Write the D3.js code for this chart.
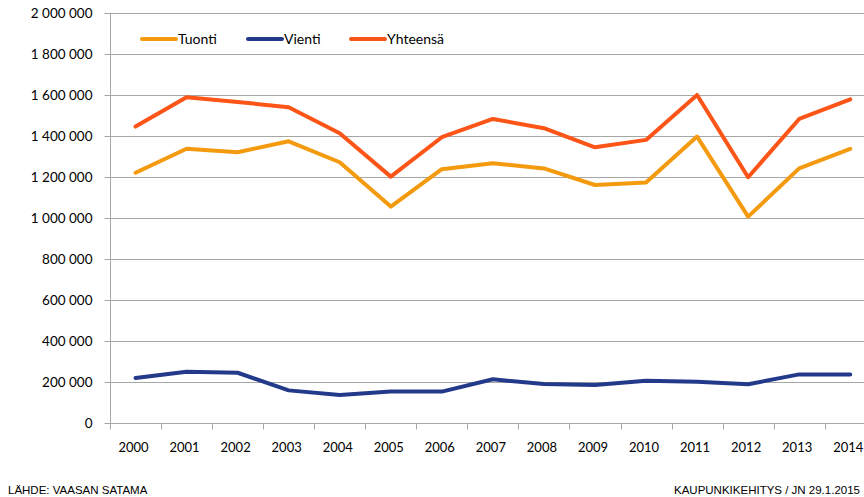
<!DOCTYPE html>
<html><head><meta charset="utf-8">
<script src="https://cdn.jsdelivr.net/npm/d3@7"></script>
<style>
html,body{margin:0;padding:0;background:#fff;}
svg{display:block;}
</style></head>
<body>
<svg id="c" width="864" height="497"></svg>
<script>
const years = ["2000","2001","2002","2003","2004","2005","2006","2007","2008","2009","2010","2011","2012","2013","2014"];
const tuonti = [1220000,1337000,1320000,1373000,1271000,1055000,1237000,1266000,1241000,1160000,1172000,1396000,1006000,1241000,1336000];
const vienti = [219000,250000,245000,159000,137000,153000,153000,213000,190000,185000,206000,201000,189000,237000,237000];
const yhteensa = [1445000,1588000,1565000,1539000,1412000,1201000,1393000,1482000,1437000,1344000,1380000,1599000,1198000,1482000,1578000];
const seriesNames = ["Tuonti","Vienti","Yhteensä"];
const seriesColors = ["#F39A0F","#233A8A","#FC5517"];
const yTicks = [0,200000,400000,600000,800000,1000000,1200000,1400000,1600000,1800000,2000000];
const sourceText = "LÄHDE: VAASAN SATAMA";
const creditText = "KAUPUNKIKEHITYS / JN 29.1.2015";

const svg = d3.select("#c");
const mLeft = 110, mTop = 12.7, mBottom = 423, bandW = 51.05;
const x = d3.scaleBand().domain(years).range([mLeft, mLeft + bandW*years.length]).paddingInner(0).paddingOuter(0);
const y = d3.scaleLinear().domain([0,2000000]).range([mBottom, mTop]);
const fmt = v => d3.format(",")(v).replace(/,/g, "\u00a0");
const font = "Lato, 'Open Sans', sans-serif";

// gridlines
svg.append("g").selectAll("line").data(yTicks.filter(d=>d>0)).join("line")
  .attr("x1", mLeft).attr("x2", 864)
  .attr("y1", d=>Math.round(y(d))+0.5).attr("y2", d=>Math.round(y(d))+0.5)
  .attr("stroke", "#a6a6a6").attr("stroke-width", 1);

// y axis
const ya = svg.append("g").attr("transform", `translate(${mLeft+0.5},0)`)
  .call(d3.axisLeft(y).tickValues(yTicks).tickSize(6).tickPadding(12).tickFormat(fmt));
ya.select(".domain").attr("stroke","#a6a6a6").attr("d", `M0,${mTop}V${mBottom}`);
ya.selectAll(".tick line").attr("stroke","#a6a6a6");
ya.selectAll(".tick").attr("transform", d=>`translate(0,${Math.round(y(d))+0.5})`);
ya.selectAll("text").attr("font-family", font).attr("font-size", 13.5).attr("fill","#000");

// x axis
const xa = svg.append("g").attr("transform", `translate(0,${mBottom+0.5})`);
xa.append("line").attr("x1", mLeft).attr("x2", 864).attr("y1",0).attr("y2",0).attr("stroke","#a6a6a6");
const bounds = years.map((d,i)=> mLeft + bandW*(i+1)).filter(v=>v<864);
xa.selectAll("line.t").data([mLeft, ...bounds]).join("line").attr("class","t")
  .attr("x1", d=>Math.round(d)+0.5).attr("x2", d=>Math.round(d)+0.5).attr("y1",0).attr("y2",6)
  .attr("stroke","#a6a6a6");
xa.selectAll("text").data(years).join("text")
  .attr("x", d=> x(d) + x.bandwidth()/2 - 2).attr("y", 28)
  .attr("text-anchor","middle").attr("font-family", font).attr("font-size", 13).attr("fill","#000")
  .text(d=>d);

// lines
const allSeries = [tuonti, vienti, yhteensa];
const line = d3.line().x((d,i)=> x(years[i]) + x.bandwidth()/2).y(d=>y(d));
svg.append("g").selectAll("path").data(allSeries).join("path")
  .attr("d", d=>line(d)).attr("fill","none")
  .attr("stroke", (d,i)=>seriesColors[i]).attr("stroke-width", 4)
  .attr("stroke-linejoin","round").attr("stroke-linecap","round");

// legend
const legX = [142, 248, 351];
const lg = svg.append("g").selectAll("g").data(seriesNames).join("g")
  .attr("transform", (d,i)=>`translate(${legX[i]},39)`);
lg.append("line").attr("x1",0).attr("x2",34).attr("y1",0).attr("y2",0)
  .attr("stroke",(d,i)=>seriesColors[i]).attr("stroke-width",4).attr("stroke-linecap","round");
lg.append("text").attr("x",36).attr("y",5).attr("font-family",font).attr("font-size",14).attr("fill","#000").text(d=>d);

// footer
svg.append("text").attr("x",8).attr("y",494).attr("font-family","'Liberation Sans Narrow', 'Arial Narrow', sans-serif")
  .attr("font-size",11.5).attr("fill","#000").text(sourceText);
svg.append("text").attr("x",860).attr("y",494).attr("text-anchor","end").attr("font-family","'Liberation Sans Narrow', 'Arial Narrow', sans-serif")
  .attr("font-size",11.5).attr("fill","#000").text(creditText);
</script>
</body></html>
